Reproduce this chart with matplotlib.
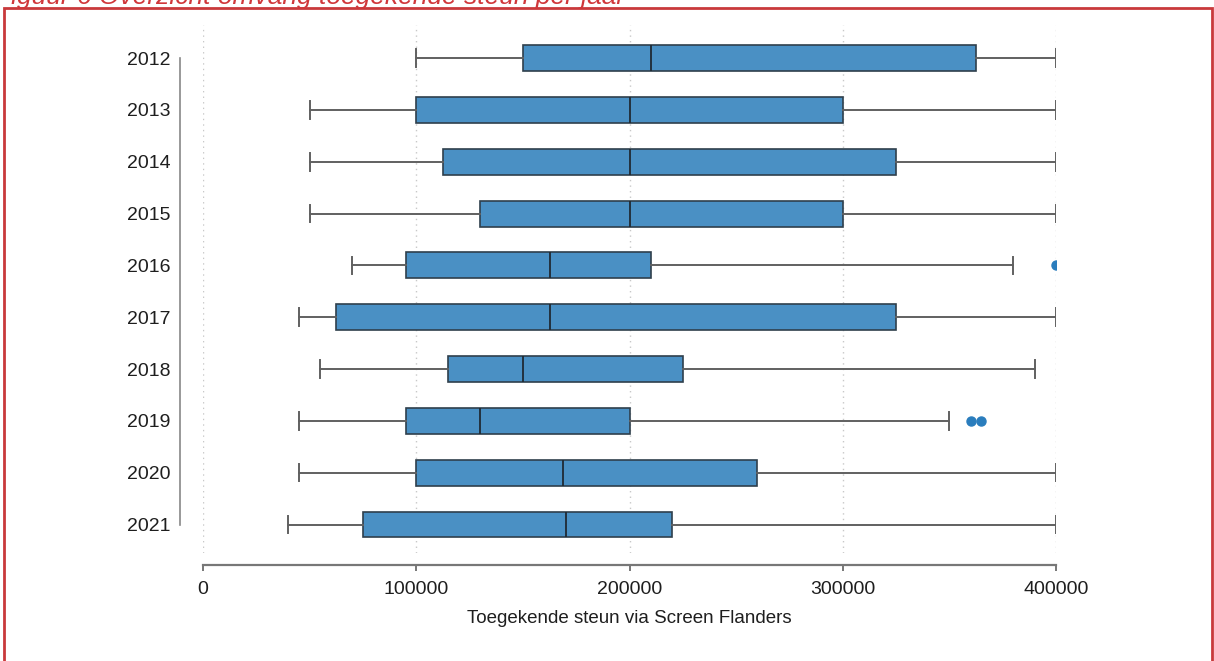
import matplotlib
matplotlib.use("Agg")
import matplotlib.pyplot as plt
from matplotlib.patches import Rectangle

# five-number summary per year (steun in euro)
years = ["2012", "2013", "2014", "2015", "2016", "2017", "2018", "2019", "2020", "2021"]
whis_lo = [100000, 50000, 50000, 50000, 70000, 45000, 55000, 45000, 45000, 40000]
q1 = [150000, 100000, 112500, 130000, 95000, 62500, 115000, 95000, 100000, 75000]
median = [210000, 200000, 200000, 200000, 162500, 162500, 150000, 130000, 169000, 170000]
q3 = [362500, 300000, 325000, 300000, 210000, 325000, 225000, 200000, 260000, 220000]
whis_hi = [400000, 400000, 400000, 400000, 380000, 400000, 390000, 350000, 400000, 400000]
outliers = [[], [], [], [], [400000], [], [], [360000, 365000], [], []]

xticks = [0, 100000, 200000, 300000, 400000]

plt.rcParams['font.family'] = ['Liberation Sans', 'DejaVu Sans']

stats = []
for i, y in enumerate(years):
    stats.append(dict(label=y, whislo=whis_lo[i], q1=q1[i], med=median[i],
                      q3=q3[i], whishi=whis_hi[i], fliers=outliers[i]))

fig = plt.figure(figsize=(12.14, 6.61), dpi=100)
ax = fig.add_axes([203 / 1214, 1 - 553 / 661, 853 / 1214, 528 / 661])

pos = list(range(len(years)))
ax.bxp(stats, positions=pos, orientation='horizontal', widths=0.5, capwidths=0.34,
       patch_artist=True,
       boxprops=dict(facecolor='#4a90c4', edgecolor='#2f3f4c', linewidth=1.2),
       medianprops=dict(color='#1f2a33', linewidth=1.3),
       whiskerprops=dict(color='#606060', linewidth=1.4),
       capprops=dict(color='#606060', linewidth=1.4),
       flierprops=dict(marker='o', markerfacecolor='#2a7dbd', markeredgecolor='#2a7dbd',
                       markersize=6.5))

ax.set_ylim(9.55, -0.64)
ax.set_xlim(0, 400000)
ax.set_yticks(pos)
ax.set_yticklabels(years)
ax.set_xticks(xticks)
ax.set_xticklabels([str(v) for v in xticks])
ax.tick_params(axis='y', length=0, pad=7, labelsize=14, colors='#1e1e1e')
ax.tick_params(axis='x', length=4, width=1.4, color='#777777', pad=7.5, labelsize=14,
               labelcolor='#1e1e1e')

for v in xticks:
    ax.axvline(v, color='#c8c8c8', linestyle=(0, (1, 3)), linewidth=1, zorder=0)

ax.spines['top'].set_visible(False)
ax.spines['right'].set_visible(False)
# spine offsets are in points (100 dpi)
ax.spines['bottom'].set_position(('outward', 8.6))
ax.spines['bottom'].set_bounds(0, 400000)
ax.spines['bottom'].set_color('#777777')
ax.spines['bottom'].set_linewidth(1.6)
ax.spines['left'].set_position(('outward', 16.5))
ax.spines['left'].set_bounds(0, 9)
ax.spines['left'].set_color('#888888')
ax.spines['left'].set_linewidth(1.2)

ax.set_xlabel('Toegekende steun via Screen Flanders', fontsize=13.5, color='#1e1e1e', labelpad=9)

# red frame and caption of the report figure
fig.patches.append(Rectangle((4 / 1214, -0.01), 1208 / 1214, 1 - 8 / 661 + 0.01,
                             transform=fig.transFigure, fill=False,
                             edgecolor='#c9393b', linewidth=2))
fig.text(-0.004, 1 - 4 / 661, 'Figuur 6 Overzicht omvang toegekende steun per jaar',
         color='#d0373a', fontsize=19, style='italic', va='baseline', ha='left')

fig.savefig('out.png', dpi=100)
